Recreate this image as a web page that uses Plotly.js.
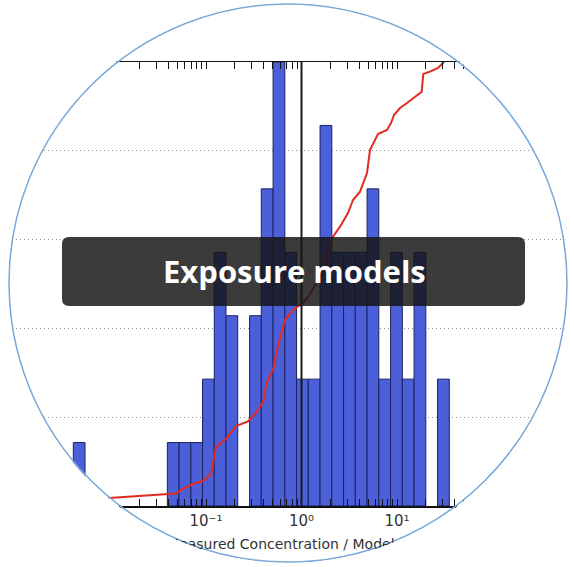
<!DOCTYPE html>
<html>
<head>
<meta charset="utf-8">
<script src="https://cdn.plot.ly/plotly-3.0.1.min.js"></script>
<style>
  html, body { margin: 0; padding: 0; background: #ffffff; }
  #chart { width: 570px; height: 567px; clip-path: circle(280px at 288px 283px); }
</style>
</head>
<body>
<div id="chart"></div>
<script>
// ---- data ----
// log-spaced histogram bin edges (ratio measured / modelled)
const binEdges = [0.00408, 0.00541, 0.00719, 0.00954, 0.0127, 0.0168, 0.0223, 0.0296,
                  0.0394, 0.0522, 0.0694, 0.0920, 0.122, 0.162, 0.215, 0.286, 0.379,
                  0.504, 0.669, 0.888, 1.178, 1.564, 2.077, 2.757, 3.660, 4.859, 6.450,
                  8.564, 11.37, 15.09, 20.03, 26.59, 35.30];
// counts per bin
const counts = [1, 0, 0, 0, 0, 0, 0, 0, 1, 1, 1, 2, 4, 3, 0, 3, 5, 7, 4, 2, 2, 6, 4, 4,
                4, 5, 2, 4, 2, 4, 0, 2];
// cumulative distribution (red line)
const cdfX = [0.00468, 0.0400, 0.0485, 0.0574, 0.0731, 0.0930, 0.1128, 0.1273, 0.1619,
              0.2062, 0.2754, 0.3420, 0.3953, 0.4352, 0.5031, 0.5539, 0.6718, 0.8146,
              1.037, 1.170, 1.563, 2.137, 2.530, 3.069, 3.462, 4.100, 4.853, 5.215,
              6.324, 7.855, 8.655, 9.305, 10.75, 12.73, 14.71, 18.14, 18.85, 22.17,
              26.88, 31.07];
const cdfY = [0.0135, 0.0259, 0.0282, 0.0383, 0.0495, 0.0563, 0.0721, 0.1329, 0.1509,
              0.1802, 0.1903, 0.2128, 0.2342, 0.2793, 0.3063, 0.3514, 0.4189, 0.4414,
              0.4572, 0.4707, 0.5158, 0.6065, 0.6291, 0.6599, 0.6892, 0.7079, 0.7500,
              0.8018, 0.8378, 0.8468, 0.8626, 0.8806, 0.8964, 0.9077, 0.9189, 0.9331,
              0.9730, 0.9782, 0.9865, 1.0];
// reference ratio (measured == modelled)
const refRatio = [1];
// x tick labels
const xTickVals = [0.1, 1, 10];
const xTickText = ['10\u207B\u00B9', '10\u2070', '10\u00B9'];
const xTitle = 'Measured Concentration / Modeled Concentration';
const bannerText = 'Exposure models';

// ---- build bar geometry from the bins ----
const barX = [], barW = [], barY = [];
for (let i = 0; i < counts.length; i++) {
  if (counts[i] > 0) {
    barX.push(binEdges[i]);
    barW.push(binEdges[i + 1] - binEdges[i]);
    barY.push(counts[i]);
  }
}
// minor log ticks 2..9 of each decade
const minorVals = [];
for (let e = -4; e <= 3; e++) for (let d = 2; d <= 9; d++) minorVals.push(d * Math.pow(10, e));

const W = 570, H = 567;
const M = {l: 0, r: 0, t: 62, b: 61};
const PW = W - M.l - M.r, PH = H - M.t - M.b;
const px2paperX = p => (p - M.l) / PW;
const px2paperY = p => (H - M.b - p) / PH;

// rounded banner path in paper coordinates
function roundRect(x0, y0, x1, y1, r) {
  const X = px2paperX, Y = px2paperY;
  return 'M' + X(x0 + r) + ',' + Y(y0) +
    ' L' + X(x1 - r) + ',' + Y(y0) +
    ' Q' + X(x1) + ',' + Y(y0) + ' ' + X(x1) + ',' + Y(y0 + r) +
    ' L' + X(x1) + ',' + Y(y1 - r) +
    ' Q' + X(x1) + ',' + Y(y1) + ' ' + X(x1 - r) + ',' + Y(y1) +
    ' L' + X(x0 + r) + ',' + Y(y1) +
    ' Q' + X(x0) + ',' + Y(y1) + ' ' + X(x0) + ',' + Y(y1 - r) +
    ' L' + X(x0) + ',' + Y(y0 + r) +
    ' Q' + X(x0) + ',' + Y(y0) + ' ' + X(x0 + r) + ',' + Y(y0) + ' Z';
}

const traces = [
  {
    type: 'bar',
    x: barX, y: barY, width: barW, offset: 0,
    xaxis: 'x', yaxis: 'y',
    marker: {color: '#4a5fd8', line: {color: '#1c2262', width: 1}},
    hoverinfo: 'skip', showlegend: false
  },
  {
    type: 'scatter', mode: 'lines',
    x: cdfX, y: cdfY,
    xaxis: 'x', yaxis: 'y2',
    line: {color: '#e32a22', width: 2},
    hoverinfo: 'skip', showlegend: false
  }
];

const layout = {
  width: W, height: H,
  margin: M,
  paper_bgcolor: '#ffffff', plot_bgcolor: '#ffffff',
  showlegend: false,
  font: {family: 'DejaVu Sans', size: 14, color: '#333333'},
  xaxis: {
    type: 'log',
    range: [(0 - 301.5) / 95.5, (570 - 301.5) / 95.5],
    tickmode: 'array', tickvals: xTickVals, ticktext: xTickText,
    showgrid: false, zeroline: false,
    showline: true, linecolor: '#111111', linewidth: 1.5, mirror: 'allticks',
    ticks: 'inside', ticklen: 7, tickwidth: 1, tickcolor: '#111111',
    minor: {tickmode: 'array', tickvals: minorVals, ticks: 'inside', ticklen: 3.5,
            tickwidth: 1, tickcolor: '#111111', showgrid: false},
    tickfont: {family: 'DejaVu Sans', size: 15, color: '#333333'}
  },
  yaxis: {
    range: [0, 7], showgrid: false, zeroline: false, showline: false,
    showticklabels: false, ticks: ''
  },
  yaxis2: {
    overlaying: 'y', side: 'right',
    range: [0, 1], dtick: 0.2,
    showgrid: true, griddash: '1px,3px', gridcolor: '#8c8c8c', gridwidth: 1,
    zeroline: false, showline: false, showticklabels: false, ticks: ''
  },
  shapes: [
    {
      type: 'line', xref: 'x', yref: 'paper',
      x0: refRatio[0], x1: refRatio[0], y0: 0, y1: 1,
      line: {color: '#1a1a1a', width: 2}, layer: 'above'
    },
    {
      type: 'path', xref: 'paper', yref: 'paper',
      path: roundRect(62, 237, 525, 306, 7),
      fillcolor: 'rgba(22,22,22,0.84)', line: {width: 0}, layer: 'above'
    },
    {
      type: 'circle', xref: 'paper', yref: 'paper',
      xsizemode: 'pixel', ysizemode: 'pixel',
      xanchor: px2paperX(288), yanchor: px2paperY(283),
      x0: -279, x1: 279, y0: -279, y1: 279,
      line: {color: '#78a9dc', width: 1.6}, fillcolor: 'rgba(0,0,0,0)', layer: 'above'
    }
  ],
  annotations: [
    {
      text: bannerText, xref: 'paper', yref: 'paper',
      x: px2paperX(294.5), y: px2paperY(271),
      xanchor: 'center', yanchor: 'middle', showarrow: false,
      font: {family: 'Open Sans', size: 31, color: '#ffffff', weight: 700}
    },
    {
      text: xTitle, xref: 'paper', yref: 'paper',
      x: px2paperX(165), y: px2paperY(544),
      xanchor: 'left', yanchor: 'middle', showarrow: false,
      font: {family: 'DejaVu Sans', size: 14, color: '#333333'}
    }
  ]
};

Plotly.newPlot('chart', traces, layout, {staticPlot: true, displayModeBar: false});
</script>
</body>
</html>
